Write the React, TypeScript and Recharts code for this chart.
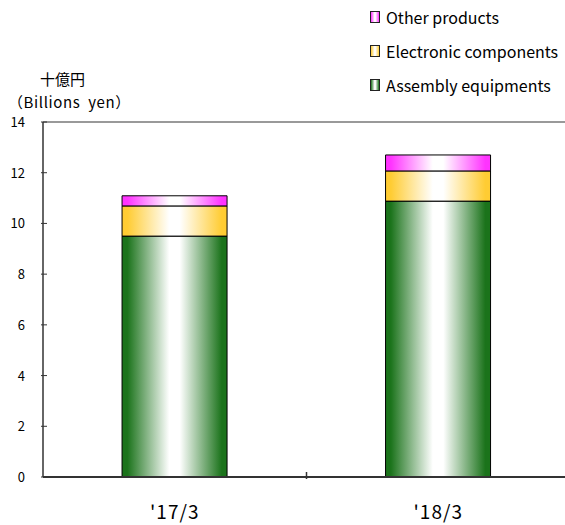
import { Bar, BarChart, ReferenceLine, XAxis, YAxis } from 'recharts';

const periods = ["'17/3", "'18/3"];
const assembly = [9.5, 10.88];
const electronic = [1.19, 1.19];
const other = [0.4, 0.63];
const yTicks = [0, 2, 4, 6, 8, 10, 12, 14];

const data = periods.map((p, i) => ({
  period: p,
  assembly: assembly[i],
  electronic: electronic[i],
  other: other[i],
}));

const W = 572;
const H = 525;
const AXIS_W = 43;
const RIGHT = 2;
const band = (W - AXIS_W - RIGHT) / periods.length;
const font = '"Noto Sans CJK JP", "Noto Sans", sans-serif';

const legendItems = [
  { name: 'Other products', color: '#ff33ff' },
  { name: 'Electronic components', color: '#ffcc33' },
  { name: 'Assembly equipments', color: '#1b731b' },
];

function YTick(props: any) {
  const { x, y, payload } = props;
  return (
    <g>
      <line x1={x} x2={x + 6} y1={y} y2={y} stroke="#333" strokeWidth={1} />
      <text x={x - 16} y={y + 5} textAnchor="end" fontSize={13} fill="#000" fontFamily={font}>
        {payload.value}
      </text>
    </g>
  );
}

function XTick(props: any) {
  const { x, y, payload, index } = props;
  return (
    <g>
      {index < periods.length - 1 && (
        <line x1={x + band / 2} x2={x + band / 2} y1={y} y2={y - 7} stroke="#333" strokeWidth={1.5} />
      )}
      <text x={x} y={y + 40} textAnchor="middle" fontSize={19} letterSpacing={1} fill="#000" fontFamily={font}>
        {payload.value}
      </text>
    </g>
  );
}

function Grad({ id, color }: { id: string; color: string }) {
  return (
    <linearGradient id={id} x1="0" y1="0" x2="1" y2="0">
      <stop offset="0" stopColor={color} />
      <stop offset="0.05" stopColor={color} />
      <stop offset="0.45" stopColor="#ffffff" />
      <stop offset="0.55" stopColor="#ffffff" />
      <stop offset="0.95" stopColor={color} />
      <stop offset="1" stopColor={color} />
    </linearGradient>
  );
}

export default function App() {
  return (
    <div style={{ position: 'absolute', left: 0, top: 0, width: 565, height: 525, overflow: 'hidden', background: '#fff', fontFamily: font }}>
      <BarChart width={W} height={H} data={data} barCategoryGap="30%" margin={{ top: 122, right: RIGHT, bottom: 0, left: 0 }}>
        <defs>
          <Grad id="gOther" color="#ff33ff" />
          <Grad id="gElec" color="#ffcc33" />
          <Grad id="gAsm" color="#1b731b" />
        </defs>
        <XAxis
          dataKey="period"
          height={48}
          tickSize={0}
          tickLine={false}
          axisLine={{ stroke: '#333', strokeWidth: 2 }}
          tick={<XTick />}
          interval={0}
        />
        <YAxis
          width={AXIS_W}
          domain={[0, 14]}
          ticks={yTicks}
          tickSize={0}
          tickLine={false}
          axisLine={{ stroke: '#333', strokeWidth: 1.5 }}
          tick={<YTick />}
          interval={0}
        />
        <ReferenceLine y={14} stroke="#999" strokeWidth={2} />
        <Bar dataKey="assembly" stackId="a" fill="url(#gAsm)" stroke="#000" strokeWidth={1} isAnimationActive={false} />
        <Bar dataKey="electronic" stackId="a" fill="url(#gElec)" stroke="#000" strokeWidth={1} isAnimationActive={false} />
        <Bar dataKey="other" stackId="a" fill="url(#gOther)" stroke="#000" strokeWidth={1} isAnimationActive={false} />
      </BarChart>

      <div style={{ position: 'absolute', left: 40, top: 71, fontSize: 15, lineHeight: 1, color: '#000' }}>十億円</div>
      <div style={{ position: 'absolute', left: 8, top: 94, fontSize: 15, lineHeight: 1, letterSpacing: 0.6, color: '#000', whiteSpace: 'pre' }}>（Billions  yen）</div>

      {legendItems.map((it, i) => (
        <div
          key={it.name}
          style={{ position: 'absolute', left: 370, top: 9 + i * 34, display: 'flex', alignItems: 'center', fontSize: 16, lineHeight: 1, color: '#000', whiteSpace: 'nowrap' }}
        >
          <span
            style={{
              display: 'inline-block',
              width: 8,
              height: 10,
              border: '1px solid #222',
              background: `linear-gradient(to right, ${it.color}, #fff 45%, #fff 55%, ${it.color})`,
              marginRight: 6,
            }}
          />
          <span>{it.name}</span>
        </div>
      ))}
    </div>
  );
}
